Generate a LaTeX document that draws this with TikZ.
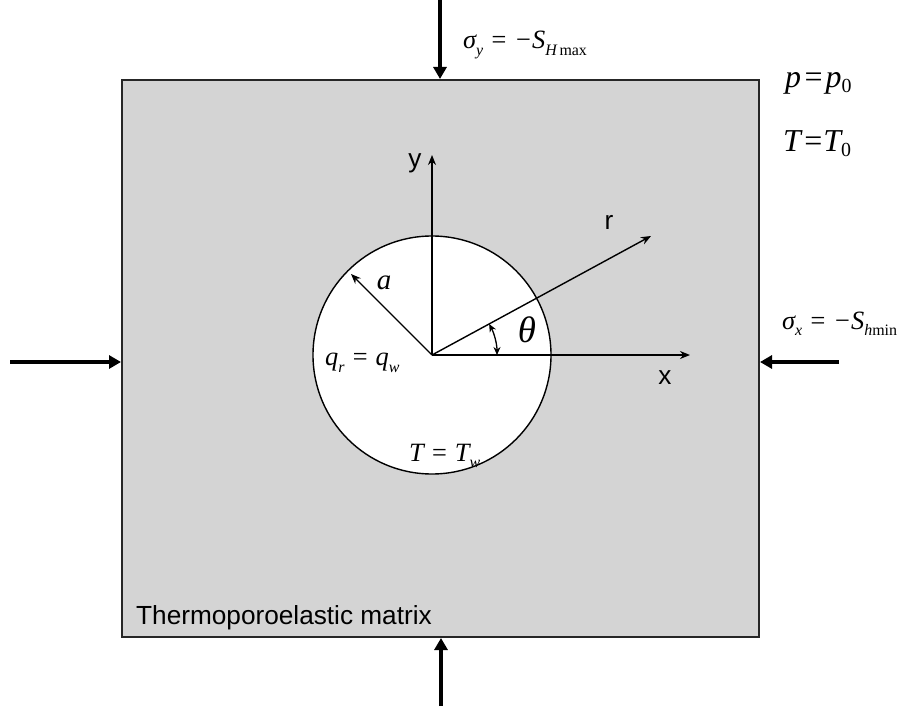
\documentclass[tikz,border=0pt]{standalone}
\usepackage{fontspec}
\setmainfont{Liberation Serif}
\newfontfamily\arialf{Liberation Sans}
\usetikzlibrary{arrows.meta,calc}
\newcommand{\lsub}[1]{\raisebox{-6.5bp}{\fontsize{16}{17}\selectfont #1}}
\newcommand{\bsub}[1]{\raisebox{-5bp}{\fontsize{20}{21}\selectfont #1}}
\begin{document}
\begin{tikzpicture}[x=1bp,y=-1bp,
  thinline/.style={line width=1.4bp},
  thinarrow/.style={line width=1.4bp,-{Stealth[length=10bp,width=8bp]}},
  bigarrow/.style={line width=3.8bp,-{Triangle[length=12bp,width=13bp]}},
  sanslbl/.style={font=\arialf\fontsize{26.3}{29}\selectfont, inner sep=0pt},
  mathlbl/.style={font=\fontsize{26.5}{30}\selectfont\itshape, inner sep=0pt},
  biglbl/.style={font=\fontsize{32}{34}\selectfont\itshape, inner sep=0pt, anchor=base west}]
\useasboundingbox (0,0) rectangle (900,712);
% matrix
\path[fill=black!17, draw=black!85!white, line width=1.4bp] (122,80) rectangle (759,637);
\node (box) at (440.5,358.5) [minimum width=637bp, minimum height=557bp, inner sep=0pt] {};
% hole
\coordinate (O) at (432,355);
\draw[thinline, fill=white] (O) circle (119);
% axes
\coordinate (ytip) at (432,155);
\coordinate (xtip) at (690,355);
\coordinate (rt) at (651,236);
\draw[thinarrow] (O) -- (ytip);
\draw[thinarrow] (O) -- (xtip);
\draw[thinarrow] (O) -- (rt);
\coordinate (atip) at (351,274);
\draw[thinarrow] (O) -- (atip);
% theta arc
\draw[line width=1.3bp,{Stealth[length=8bp,width=7bp]}-{Stealth[length=8bp,width=7bp]}] ($(O)+(-28.5:65)$) arc[start angle=-28.5, end angle=0, radius=65];
% labels
\node[sanslbl] (ylbl) at (415,163) {y};
\node[sanslbl] (xlbl) at (665,378) {x};
\node[sanslbl] (rlbl) at (609,222) {r};
\node[mathlbl, font=\fontsize{29}{31}\selectfont\itshape] (albl) at (384,283) {a};
\node[mathlbl, font=\fontsize{37}{39}\selectfont\itshape] (thlbl) at (527,330) {θ};
\node[mathlbl, anchor=west] (qlbl) at (325,363) {q\lsub{r} = q\lsub{w}};
\node[mathlbl, anchor=west] (Twlbl) at (409,456) {T = T\lsub{w}};
% boundary conditions
\node[mathlbl, anchor=west] (sylbl) at (463,45) {σ\lsub{y} = −S\lsub{H\,\upshape max}};
\node[biglbl] (plbl) at (785,88) {p\kern1.5bp=\kern1.5bp p\bsub{\upshape 0}};
\node[biglbl] (T0lbl) at (783,152) {T\kern1.5bp=\kern-0.5bp T\bsub{\upshape 0}};
\node[mathlbl, anchor=west] (sxlbl) at (782,324) {σ\lsub{x} = −S\lsub{h\upshape min}};
\node[sanslbl, anchor=west] (mlbl) at (136,618) {Thermoporoelastic matrix};
% load arrows
\coordinate (topS) at (440,0);
\coordinate (topE) at (440,79);
\coordinate (botS) at (441,706);
\coordinate (botE) at (441,638);
\coordinate (lefS) at (10,362);
\coordinate (lefE) at (121,362);
\coordinate (rigS) at (839,362);
\coordinate (rigE) at (760,362);
\draw[bigarrow] (topS) -- (topE);
\draw[bigarrow] (botS) -- (botE);
\draw[bigarrow] (lefS) -- (lefE);
\draw[bigarrow] (rigS) -- (rigE);
\end{tikzpicture}
\end{document}
